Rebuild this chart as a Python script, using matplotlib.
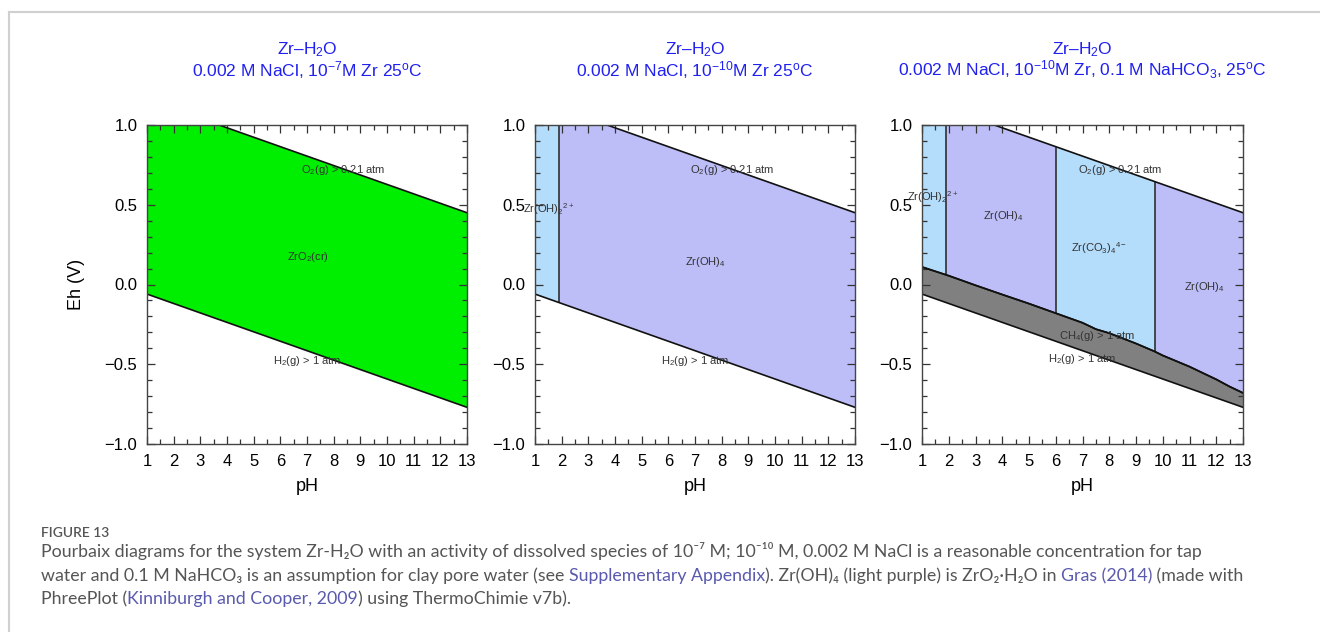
import matplotlib
matplotlib.use("Agg")
import matplotlib.pyplot as plt
from matplotlib.patches import Polygon
from matplotlib.lines import Line2D
from matplotlib.ticker import MultipleLocator

plt.rcParams['font.family'] = ['Liberation Sans', 'DejaVu Sans']
plt.rcParams['mathtext.fontset'] = 'custom'
plt.rcParams['mathtext.rm'] = 'Liberation Sans'
plt.rcParams['mathtext.it'] = 'Liberation Sans:italic'
plt.rcParams['mathtext.bf'] = 'Liberation Sans:bold'

# water stability limits
water_ph = [1, 13]
o2_eh = [1.16, 0.45]
h2_eh = [-0.06, -0.77]

# upper edge of the CH4(g) > 1 atm band (panel 3)
ch4_ph = [1, 2, 3, 4, 5, 6, 7, 7.5, 8, 9, 9.7, 10, 11, 12, 12.5, 13]
ch4_eh = [0.11, 0.055, -0.005, -0.063, -0.12, -0.18, -0.24, -0.28, -0.305,
          -0.37, -0.42, -0.445, -0.515, -0.595, -0.64, -0.68]

# field boundaries (pH) and field colours
p1_bounds = [1, 13]
p1_fields = ['#00ee00']
p2_bounds = [1, 1.9, 13]
p2_fields = ['#b4dcfb', '#bdbdf8']
p3_bounds = [1, 1.9, 6.0, 9.7, 13]
p3_fields = ['#b4dcfb', '#bdbdf8', '#b4dcfb', '#bdbdf8']

titles_1 = ['Zr–H$_2$O', 'Zr–H$_2$O', 'Zr–H$_2$O']
titles_2 = ['0.002 M NaCl, 10$^{-7}$M Zr 25$^{\\rm o}$C',
            '0.002 M NaCl, 10$^{-10}$M Zr 25$^{\\rm o}$C',
            '0.002 M NaCl, 10$^{-10}$M Zr, 0.1 M NaHCO$_3$, 25$^{\\rm o}$C']

o2_label = 'O$_2$(g) > 0.21 atm'
h2_label = 'H$_2$(g) > 1 atm'
p1_labels = [(o2_label, 8.35, 0.72), ('ZrO$_2$(cr)', 7.05, 0.17), (h2_label, 7.0, -0.48)]
p2_labels = [(o2_label, 8.4, 0.72), ('Zr(OH)$_2$$^{2+}$', 1.5, 0.47),
             ('Zr(OH)$_4$', 7.4, 0.14), (h2_label, 7.0, -0.48)]
p3_labels = [(o2_label, 8.4, 0.72), ('Zr(OH)$_2$$^{2+}$', 1.4, 0.55),
             ('Zr(OH)$_4$', 4.05, 0.43), ('Zr(CO$_3$)$_4$$^{4-}$', 7.6, 0.23),
             ('Zr(OH)$_4$', 11.55, -0.015), ('CH$_4$(g) > 1 atm', 7.55, -0.32),
             (h2_label, 7.0, -0.47)]

W, H = 1320, 632
fig = plt.figure(figsize=(W / 100, H / 100), dpi=100)

# frame of the figure page
fig.add_artist(Line2D([9 / W, 9 / W], [0, 1 - 12 / H], color='#d0d0d0', lw=1.5))
fig.add_artist(Line2D([9 / W, 1], [1 - 12 / H, 1 - 12 / H], color='#d0d0d0', lw=1.5))

lefts = [147, 535, 922]
widths = [320, 320, 321]
ax_bottom = 1 - 444 / H
ax_height = (444 - 125) / H


def draw_panel(ax, lower_ph, lower_eh, bounds, fields, labels):
    field = Polygon(list(zip(lower_ph, lower_eh)) + list(zip(water_ph[::-1], o2_eh[::-1])),
                    closed=True, facecolor='none', edgecolor='none')
    ax.add_patch(field)
    for i, col in enumerate(fields):
        span = ax.axvspan(bounds[i], bounds[i + 1], color=col, lw=0)
        span.set_clip_path(field)
    for b in bounds[1:-1]:
        ln = ax.axvline(b, color='#222222', lw=1.1)
        ln.set_clip_path(field)
    ax.plot(water_ph, o2_eh, color='#111111', lw=1.2)
    ax.plot(lower_ph, lower_eh, color='#111111', lw=1.2)
    for txt, x, y in labels:
        ax.text(x, y, txt, fontsize=8, color='#333333', ha='center', va='center')


axes = []
for i in range(3):
    ax = fig.add_axes([lefts[i] / W, ax_bottom, widths[i] / W, ax_height])
    axes.append(ax)

draw_panel(axes[0], water_ph, h2_eh, p1_bounds, p1_fields, p1_labels)
draw_panel(axes[1], water_ph, h2_eh, p2_bounds, p2_fields, p2_labels)
draw_panel(axes[2], ch4_ph, ch4_eh, p3_bounds, p3_fields, p3_labels)
# CH4 band between the H2 line and the methane boundary
axes[2].add_patch(Polygon(list(zip(ch4_ph, ch4_eh)) + list(zip(water_ph[::-1], h2_eh[::-1])),
                          closed=True, facecolor='#808080', edgecolor='none'))
axes[2].plot(water_ph, h2_eh, color='#111111', lw=1.2)
axes[2].plot(ch4_ph, ch4_eh, color='#111111', lw=1.2)

for i, ax in enumerate(axes):
    ax.set_xlim(1, 13)
    ax.set_ylim(-1, 1)
    ax.set_xticks(range(1, 14))
    ax.set_yticks([-1.0, -0.5, 0.0, 0.5, 1.0])
    ax.set_yticklabels(['−1.0', '−0.5', '0.0', '0.5', '1.0'])
    ax.xaxis.set_minor_locator(MultipleLocator(0.5))
    ax.yaxis.set_minor_locator(MultipleLocator(0.1))
    ax.tick_params(which='both', direction='in', top=True, right=True,
                   labelsize=12, color='#333333', width=0.9)
    ax.tick_params(which='major', length=6)
    ax.tick_params(which='minor', length=3.5)
    ax.tick_params(axis='x', which='major', pad=7)
    ax.tick_params(axis='y', which='major', pad=7)
    for sp in ax.spines.values():
        sp.set_color('#444444')
        sp.set_linewidth(1.0)
    ax.set_xlabel('pH', fontsize=13, labelpad=7)
    cx = (lefts[i] + widths[i] / 2) / W
    fig.text(cx, 1 - 50 / H, titles_1[i], color='#2020f0', fontsize=12.5, ha='center', va='center')
    fig.text(cx, 1 - 70 / H, titles_2[i], color='#2020f0', fontsize=12.5, ha='center', va='center')
axes[0].set_ylabel('Eh (V)', fontsize=13, labelpad=14)

# caption
cap_family = ['Lato', 'DejaVu Sans']
grey = '#555555'
link = '#5a5aae'
cap_lines = [
    [('Pourbaix diagrams for the system Zr-H₂O with an activity of dissolved species of 10⁻⁷ M; '
      '10⁻¹⁰ M, 0.002 M NaCl is a reasonable concentration for tap', grey)],
    [('water and 0.1 M NaHCO₃ is an assumption for clay pore water (see ', grey),
     ('Supplementary Appendix', link),
     ('). Zr(OH)₄ (light purple) is ZrO₂·H₂O in ', grey),
     ('Gras (2014)', link),
     (' (made with', grey)],
    [('PhreePlot (', grey), ('Kinniburgh and Cooper, 2009', link),
     (') using ThermoChimie v7b).', grey)],
]
cap_baselines = [557, 581, 604]
cap_x0 = 41
cap_size = 12.8

renderer = fig.canvas.get_renderer()


def text_width(s, size):
    t = fig.text(0, 0, s, fontsize=size, family=cap_family)
    w = t.get_window_extent(renderer).width
    t.remove()
    return w


fig.text(cap_x0 / W, 1 - 537 / H, 'FIGURE 13', fontsize=10, color=grey,
         family=cap_family, weight='semibold', va='baseline')

for segs, base in zip(cap_lines, cap_baselines):
    prefix = ''
    dot_w = text_width('.', cap_size)
    for txt, col in segs:
        off = 0 if prefix == '' else text_width(prefix + '.', cap_size) - dot_w
        fig.text((cap_x0 + off) / W, 1 - base / H, txt, fontsize=cap_size, color=col,
                 family=cap_family, va='baseline', ha='left')
        prefix += txt

fig.savefig('out.png', dpi=100)
